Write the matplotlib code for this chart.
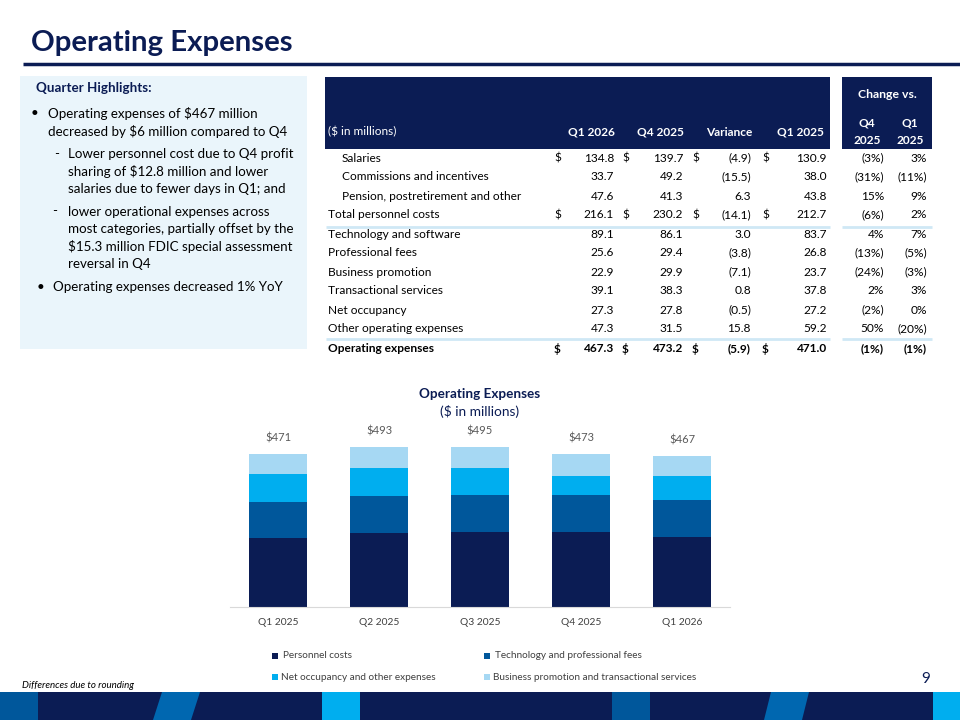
import matplotlib
matplotlib.use("Agg")
import matplotlib.pyplot as plt
from matplotlib.patches import Rectangle, Polygon

plt.rcParams["font.family"] = ["Lato", "DejaVu Sans"]

W, H = 960, 720
NAVY = "#0b1c54"
MID = "#00579b"
BLUE = "#0067b0"
CYAN = "#00aeef"
PALE = "#a6d8f3"
PANEL = "#eaf5fb"
RULE = "#cfe8f5"
GREY = "#404040"

# ---- table data ($ in millions) ----
row_labels = ["Salaries", "Commissions and incentives", "Pension, postretirement and other",
              "Total personnel costs", "Technology and software", "Professional fees",
              "Business promotion", "Transactional services", "Net occupancy",
              "Other operating expenses", "Operating expenses"]
row_indent = [1, 1, 1, 0, 0, 0, 0, 0, 0, 0, 0]
row_dollar = [1, 0, 0, 1, 0, 0, 0, 0, 0, 0, 1]
q1_2026 = [134.8, 33.7, 47.6, 216.1, 89.1, 25.6, 22.9, 39.1, 27.3, 47.3, 467.3]
q4_2025 = [139.7, 49.2, 41.3, 230.2, 86.1, 29.4, 29.9, 38.3, 27.8, 31.5, 473.2]
variance = [-4.9, -15.5, 6.3, -14.1, 3.0, -3.8, -7.1, 0.8, -0.5, 15.8, -5.9]
q1_2025 = [130.9, 38.0, 43.8, 212.7, 83.7, 26.8, 23.7, 37.8, 27.2, 59.2, 471.0]
chg_q4 = [-3, -31, 15, -6, 4, -13, -24, 2, -2, 50, -1]
chg_q1 = [3, -11, 9, 2, 7, -5, -3, 3, 0, -20, -1]

# ---- chart data ($ in millions) ----
quarters = ["Q1 2025", "Q2 2025", "Q3 2025", "Q4 2025", "Q1 2026"]
personnel = [212.7, 228.6, 232.5, 230.2, 216.1]
tech_prof = [110.5, 113.0, 113.0, 115.5, 114.7]
occ_other = [86.4, 87.5, 84.4, 59.3, 74.6]
promo_trans = [61.5, 63.9, 65.1, 68.2, 62.0]
series_names = ["Personnel costs", "Technology and professional fees",
                "Net occupancy and other expenses",
                "Business promotion and transactional services"]

highlights = [
    ("•", 31, 47.5, "Operating expenses of $467 million"),
    ("", 31, 47.5, "decreased by $6 million compared to Q4"),
    ("-", 54, 68, "Lower personnel cost due to Q4 profit"),
    ("", 54, 68, "sharing of $12.8 million and lower"),
    ("", 54, 68, "salaries due to fewer days in Q1; and"),
    ("-", 52, 68, "lower operational expenses across"),
    ("", 52, 68, "most categories, partially offset by the"),
    ("", 52, 68, "$15.3 million FDIC special assessment"),
    ("", 52, 68, "reversal in Q4"),
    ("•", 37, 53, "Operating expenses decreased 1% YoY"),
]
highlight_y = [113, 131, 154, 171.5, 189, 211.5, 229, 246.5, 264, 287]


def num(v):
    return f"({abs(v):.1f})" if v < 0 else f"{v:.1f}"


def pct(v):
    return f"({abs(v)}%)" if v < 0 else f"{v}%"


fig = plt.figure(figsize=(9.6, 7.2), dpi=100)
bg = fig.add_axes([0, 0, 1, 1])
bg.set_xlim(0, W)
bg.set_ylim(H, 0)
bg.axis("off")

# title and rule
bg.text(31, 43, "Operating Expenses", fontsize=21.2, fontweight="bold", color=NAVY, va="center")
bg.plot([23, 960], [63.5, 63.5], color=NAVY, lw=2.5, solid_capstyle="butt")

# highlights panel
bg.add_patch(Rectangle((20, 76), 287, 273, color=PANEL, lw=0))
bg.text(36, 88, "Quarter Highlights:", fontsize=9.6, fontweight="bold", color=NAVY, va="center")
for (mark, mx, tx, line), y in zip(highlights, highlight_y):
    if mark:
        bg.text(mx, y, mark, fontsize=9.6, color="black", va="center")
    bg.text(tx, y, line, fontsize=9.6, color="black", va="center")

# table header
bg.add_patch(Rectangle((325, 77), 505, 72, color=NAVY, lw=0))
bg.add_patch(Rectangle((842, 77), 90, 72, color=NAVY, lw=0))
bg.text(328, 132, "($ in millions)", fontsize=8.6, color="white", va="center")
for x, s in zip([591, 660, 729, 800], ["Q1 2026", "Q4 2025", "Variance", "Q1 2025"]):
    bg.text(x, 132, s, fontsize=8.6, fontweight="bold", color="white", va="center", ha="center")
bg.text(887, 95, "Change vs.", fontsize=8.8, fontweight="bold", color="white", va="center", ha="center")
for x, s in zip([867, 910], ["Q4", "Q1"]):
    bg.text(x, 122.5, s, fontsize=8.6, fontweight="bold", color="white", va="center", ha="center")
    bg.text(x, 141, "2025", fontsize=8.6, fontweight="bold", color="white", va="center", ha="center")

# table body
row_y = [158, 177, 196, 215, 235, 253, 272, 291, 310, 329, 349]
for i, y in enumerate(row_y):
    bold = "bold" if i == len(row_y) - 1 else "normal"
    kw = dict(fontsize=8.6, color="black", va="center", fontweight=bold)
    bg.text(342 if row_indent[i] else 328, y, row_labels[i], **kw)
    if row_dollar[i]:
        for x in [554, 622, 692, 762]:
            bg.text(x, y, "$", **kw)
    bg.text(614, y, num(q1_2026[i]), ha="right", **kw)
    bg.text(683, y, num(q4_2025[i]), ha="right", **kw)
    bg.text(751, y, num(variance[i]), ha="right", **kw)
    bg.text(827, y, num(q1_2025[i]), ha="right", **kw)
    bg.text(884, y, pct(chg_q4[i]), ha="right", **kw)
    bg.text(927, y, pct(chg_q1[i]), ha="right", **kw)
for y in [226.5, 338.5]:
    bg.plot([326, 830], [y, y], color=RULE, lw=2, solid_capstyle="butt")
    bg.plot([842, 932], [y, y], color=RULE, lw=2, solid_capstyle="butt")

# chart titles
bg.text(480, 394, "Operating Expenses", fontsize=9.7, fontweight="bold", color=NAVY, ha="center", va="center")
bg.text(480, 411, "($ in millions)", fontsize=9.9, color=NAVY, ha="center", va="center")

# stacked bar chart
ax = fig.add_axes([230 / W, 1 - 607 / H, 500 / W, 187 / H])
colors = [NAVY, MID, CYAN, PALE]
bottom = [0.0] * len(quarters)
for vals, c, name in zip([personnel, tech_prof, occ_other, promo_trans], colors, series_names):
    ax.bar(range(len(quarters)), vals, width=0.574, bottom=bottom, color=c, label=name, lw=0)
    bottom = [b + v for b, v in zip(bottom, vals)]
for i, tot in enumerate(bottom):
    ax.annotate(f"${tot:.0f}", (i, tot), xytext=(0, 11.5), textcoords="offset points",
                ha="center", va="center", fontsize=8, color="#595959")
ax.set_xlim(-0.475, 4.475)
ax.set_ylim(0, 187 * 3.088)
ax.set_xticks(range(len(quarters)))
ax.set_xticklabels(quarters, fontsize=7.4, color=GREY)
ax.tick_params(axis="x", length=0, pad=8)
ax.set_yticks([])
for side in ["top", "left", "right"]:
    ax.spines[side].set_visible(False)
ax.spines["bottom"].set_color("#d9d9d9")
ax.patch.set_alpha(0)

# legend
legend_pos = [(272, 656, 283), (484, 656, 495), (272, 677, 281), (484, 677, 493)]
for (x, y, tx), c, name in zip(legend_pos, colors, series_names):
    bg.add_patch(Rectangle((x, y - 3), 6, 6, color=c, lw=0))
    bg.text(tx, y, name, fontsize=7.2, color=GREY, va="center")

# footer
bg.text(22, 685, "Differences due to rounding", fontsize=7, style="italic", color="black", va="center")
bg.text(926, 679, "9", fontsize=11, color=NAVY, va="center", ha="center")
bg.add_patch(Rectangle((0, 692), W, 28, color=NAVY, lw=0))
for x0, c in [(0, MID), (322, CYAN), (612, MID), (933, CYAN)]:
    bg.add_patch(Rectangle((x0, 692), 38, 28, color=c, lw=0))
for xb, xt in [(153, 162), (764, 771)]:
    bg.add_patch(Polygon([(xb, 720), (xt, 692), (xt + 38, 692), (xb + 38, 720)], color=BLUE, lw=0))

fig.savefig("out.png", dpi=100)
